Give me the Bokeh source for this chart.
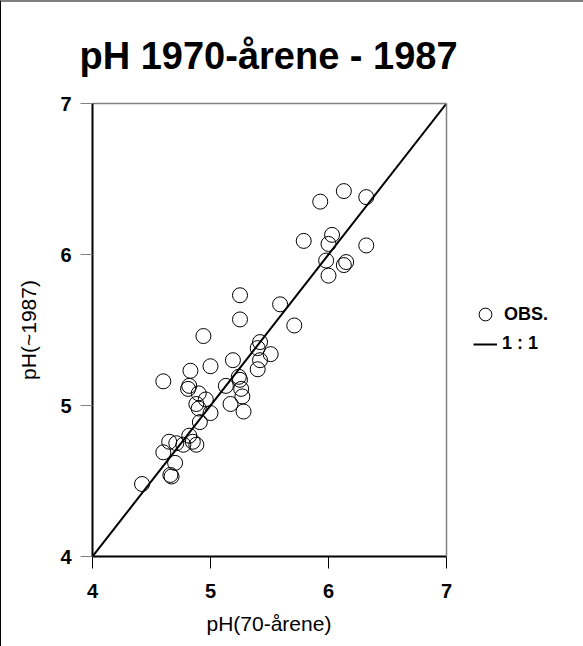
from bokeh.plotting import figure
from bokeh.models import (Range1d, Legend, LegendItem, FixedTicker, LinearAxis,
                          Span, Title)
from bokeh.embed import file_html
from bokeh.resources import INLINE

title_text = "pH 1970-årene - 1987"
x_label = "pH(70-årene)"
y_label = "pH(~1987)"
ticks = [4, 5, 6, 7]
axis_min, axis_max = 4, 7

obs_x = [5.93, 6.13, 6.32, 5.79, 6.03, 6.00, 6.32, 5.98, 6.15, 6.13,
         6.00, 5.25, 5.59, 5.25, 5.71, 4.94, 5.42, 5.40, 5.51, 5.42,
         5.40, 5.19, 5.00, 4.83, 4.60, 4.82, 4.81, 4.90, 4.96, 4.88,
         4.90, 5.00, 4.91, 5.13, 5.24, 5.25, 5.26, 5.27, 5.17, 5.28,
         4.65, 4.71, 4.77, 4.82, 4.85, 4.88, 4.60, 4.70, 4.66, 4.67,
         4.42]
obs_y = [6.35, 6.42, 6.38, 6.09, 6.13, 6.07, 6.06, 5.96, 5.95, 5.93,
         5.86, 5.73, 5.67, 5.57, 5.53, 5.46, 5.42, 5.38, 5.34, 5.30,
         5.24, 5.30, 5.26, 5.23, 5.16, 5.13, 5.11, 5.08, 5.04, 5.01,
         4.98, 4.95, 4.89, 5.13, 5.19, 5.17, 5.11, 5.06, 5.01, 4.96,
         4.76, 4.75, 4.74, 4.80, 4.76, 4.74, 4.69, 4.62, 4.54, 4.53,
         4.48]
ref_x = [4, 7]
ref_y = [4, 7]
legend_labels = ["OBS.", "1 : 1"]

FONT = "Liberation Sans"

# pixel layout: the data box (4..7) is 354 px wide; the frame is widened to
# the right to hold the legend, while axes are bounded to 4..7
box_w, box_h = 354, 453
frame_w = 482
x_end = axis_min + frame_w * (axis_max - axis_min) / box_w

p = figure(frame_width=frame_w, frame_height=box_h,
           x_range=Range1d(axis_min, x_end), y_range=Range1d(axis_min, axis_max),
           output_backend="svg", toolbar_location=None,
           min_border_left=91, min_border_right=9,
           min_border_top=101, min_border_bottom=90)
p.styles = {"border-top": "2px solid #808080", "border-left": "1px solid #000000"}

p.title.text = title_text
p.title.text_font = FONT
p.title.text_font_size = "38px"
p.title.text_font_style = "bold"
p.title.text_color = "black"
p.title.align = "left"
p.title.offset = -13
p.title.standoff = 53

p.xgrid.visible = False
p.ygrid.visible = False
p.outline_line_color = None

xax = p.below[0]
yax = p.left[0]

for ax in (xax, yax):
    ax.ticker = FixedTicker(ticks=ticks)
    ax.axis_line_color = "black"
    ax.axis_line_width = 2
    ax.major_tick_out = 12
    ax.major_tick_in = 0
    ax.minor_tick_line_color = None
    ax.major_label_text_font = FONT
    ax.major_label_text_font_style = "bold"
    ax.major_label_text_font_size = "20px"
    ax.major_label_text_color = "black"
    ax.axis_label_text_font = FONT
    ax.axis_label_text_font_style = "normal"
    ax.axis_label_text_font_size = "21px"
    ax.axis_label_text_color = "black"

xax.bounds = (axis_min, axis_max)
yax.axis_label = y_label
xax.major_tick_line_color = "black"
yax.major_tick_line_color = "#808080"
xax.major_label_standoff = 15
yax.major_label_standoff = 9
yax.axis_label_standoff = 17

# x axis label, centred under the 4..7 box (not the widened frame)
x_title = Title(text=x_label, align="left", offset=114, standoff=18,
                text_font=FONT, text_font_size="21px",
                text_font_style="normal", text_color="black")
p.add_layout(x_title, "below")

# top edge of the box
top_axis = LinearAxis(bounds=(axis_min, axis_max), ticker=FixedTicker(ticks=[]),
                      axis_line_color="#808080", axis_line_width=1.5,
                      major_tick_out=0, major_tick_in=0, minor_tick_out=0,
                      minor_tick_in=0, major_label_text_font_size="0px",
                      minor_tick_line_color=None, major_tick_line_color=None)
p.add_layout(top_axis, "above")
# right edge of the box
p.add_layout(Span(location=axis_max, dimension="height",
                  line_color="#808080", line_width=1.5))

r_obs = p.scatter(obs_x, obs_y, marker="circle", size=15, fill_color=None,
                  line_color="black", line_width=1)
r_ref = p.line(ref_x, ref_y, line_color="black", line_width=2)

leg1 = Legend(items=[LegendItem(label=legend_labels[0], renderers=[r_obs])],
              location=(377, 226), glyph_width=32, glyph_height=32,
              padding=0, margin=0, border_line_color=None,
              background_fill_color=None, label_text_font=FONT,
              label_text_font_style="bold", label_text_font_size="18px",
              label_text_color="black", label_standoff=3)
leg2 = Legend(items=[LegendItem(label=legend_labels[1], renderers=[r_ref])],
              location=(381, 202), glyph_width=24, glyph_height=20,
              padding=0, margin=0, border_line_color=None,
              background_fill_color=None, label_text_font=FONT,
              label_text_font_style="bold", label_text_font_size="18px",
              label_text_color="black", label_standoff=5)
p.add_layout(leg1)
p.add_layout(leg2)

open("out.html", "w").write(file_html(p, INLINE))
